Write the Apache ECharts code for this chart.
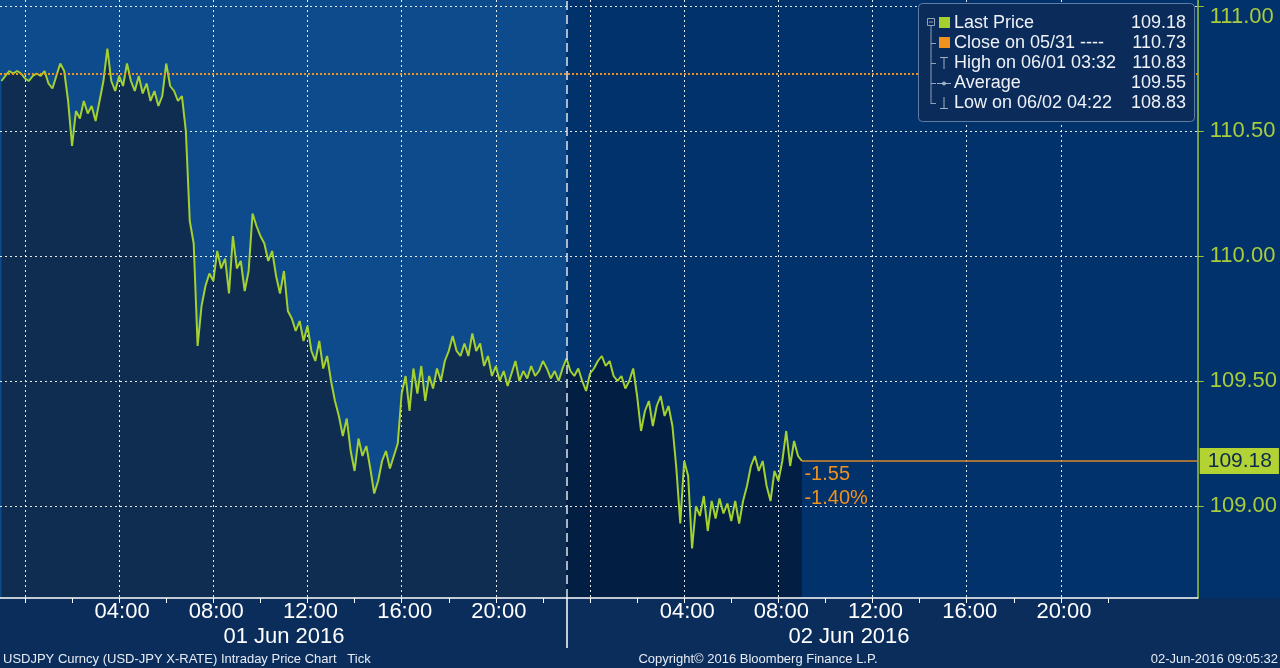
<!DOCTYPE html>
<html><head><meta charset="utf-8">
<script src="https://cdn.jsdelivr.net/npm/echarts@6/dist/echarts.min.js"></script>
<style>html,body{margin:0;padding:0;background:#0a2d5c;}#c{width:1280px;height:668px;}</style>
</head><body><div id="c"></div>
<script>
// ---- data ----
const startHour = -1;          // 23:00 on 31 May (hours from 00:00 01 Jun)
const stepMinutes = 10;
const prices = [
110.70,110.72,110.74,110.73,110.74,110.73,110.71,110.70,110.72,110.73,
110.72,110.74,110.69,110.67,110.72,110.77,110.74,110.62,110.44,110.58,
110.55,110.62,110.57,110.60,110.54,110.62,110.70,110.83,110.70,110.66,
110.72,110.68,110.77,110.70,110.66,110.72,110.65,110.69,110.62,110.66,
110.60,110.64,110.77,110.68,110.66,110.62,110.64,110.50,110.14,110.05,
109.64,109.80,109.88,109.93,109.90,110.02,109.95,109.99,109.85,110.08,
109.95,109.98,109.86,109.94,110.17,110.12,110.08,110.05,109.98,110.02,
109.92,109.85,109.94,109.78,109.75,109.70,109.74,109.66,109.72,109.62,
109.58,109.66,109.55,109.60,109.50,109.42,109.36,109.28,109.35,109.22,
109.14,109.27,109.20,109.24,109.15,109.05,109.10,109.18,109.22,109.15,
109.20,109.25,109.45,109.52,109.38,109.55,109.45,109.56,109.42,109.52,
109.47,109.55,109.50,109.58,109.62,109.68,109.62,109.60,109.65,109.60,
109.69,109.62,109.65,109.56,109.60,109.52,109.56,109.50,109.54,109.48,
109.53,109.58,109.50,109.54,109.51,109.56,109.52,109.54,109.58,109.55,
109.51,109.54,109.50,109.55,109.59,109.54,109.52,109.55,109.50,109.46,
109.53,109.55,109.58,109.60,109.56,109.58,109.52,109.50,109.52,109.47,
109.50,109.55,109.44,109.30,109.38,109.42,109.32,109.40,109.44,109.36,
109.40,109.32,109.15,108.93,109.18,109.12,108.83,109.00,108.96,109.04,
108.90,109.02,108.95,109.03,108.97,109.01,108.94,109.02,108.93,109.02,
109.08,109.16,109.20,109.14,109.18,109.08,109.02,109.14,109.10,109.18,
109.30,109.16,109.26,109.20,109.18
];
const timeTickHours = [0,2,4,6,8,10,12,14,16,18,20,22,24,26,28,30,32,34,36,38,40,42,44,46];
const timeLabelHours = [4,8,12,16,20,28,32,36,40,44];
const gridHours = [0,4,8,12,16,20,24,28,32,36,40,44];
const dateLabelHours = [11,35];
const dateLabels = ['01 Jun 2016','02 Jun 2016'];
const priceTicks = [109.0,109.5,110.0,110.5,111.0];
const sessionBreakHour = 23;
const prevClose = 110.73;
const lastPrice = 109.18;
const netChange = '-1.55';
const pctChange = '-1.40%';
const legendLabels = ['Last Price','Close on 05/31 ----','High on 06/01 03:32','Average','Low on 06/02 04:22'];
const legendValues = ['109.18','110.73','110.83','109.55','108.83'];
const footerLeft = 'USDJPY Curncy (USD-JPY X-RATE) Intraday Price Chart   Tick';
const footerCenter = 'Copyright\u00A9 2016 Bloomberg Finance L.P.';
const footerRight = '02-Jun-2016 09:05:32';

// ---- build ----
const X_MIN = -1.06, X_MAX = 49.81, Y_MIN = 108.632, Y_MAX = 111.024;
const FONT = 'Liberation Sans, Arial, sans-serif';
const seriesData = prices.map((p,i)=>[startHour + i*stepMinutes/60, p]);
const lastHour = seriesData[seriesData.length-1][0];
const frac = (sessionBreakHour - startHour)/(lastHour - startHour);
const C = {
  bgLeft:'#0d4b8c', bgRight:'#02326c', fillLeft:'#0f2d50', fillRight:'#021e42',
  line:'#a4d030', axisGreen:'#9cc43a', orange:'#f0921e', band:'#0a2d5c'
};
const xBase = {type:'value', min:X_MIN, max:X_MAX, gridIndex:0, position:'bottom',
  axisLine:{show:false, onZero:false}, axisTick:{show:false}, axisLabel:{show:false}, splitLine:{show:false}};

const legendEls = [];
legendEls.push({type:'rect', shape:{x:918.5,y:3.5,width:276,height:118,r:4},
  style:{fill:'#0b2b5a', stroke:'#5f7ea3', lineWidth:1}, z:100});
legendEls.push({type:'rect', shape:{x:927.5,y:18.5,width:7,height:7}, style:{fill:'none', stroke:'#8fa3bb', lineWidth:1}, z:101});
legendEls.push({type:'line', shape:{x1:929,y1:22,x2:933,y2:22}, style:{stroke:'#8fa3bb', lineWidth:1}, z:101});
legendEls.push({type:'line', shape:{x1:931,y1:26,x2:931,y2:104}, style:{stroke:'#8fa3bb', lineWidth:1}, z:101});
[43,63,83,103].forEach(y=>legendEls.push({type:'line', shape:{x1:931,y1:y+0.5,x2:936,y2:y+0.5}, style:{stroke:'#8fa3bb', lineWidth:1}, z:101}));
legendEls.push({type:'rect', shape:{x:939,y:17,width:11,height:11}, style:{fill:C.line}, z:101});
legendEls.push({type:'rect', shape:{x:939,y:37,width:11,height:11}, style:{fill:C.orange}, z:101});
legendEls.push({type:'line', shape:{x1:940,y1:57.5,x2:948,y2:57.5}, style:{stroke:'#9fb0c4', lineWidth:1}, z:101});
legendEls.push({type:'line', shape:{x1:944,y1:57,x2:944,y2:69}, style:{stroke:'#9fb0c4', lineWidth:1}, z:101});
legendEls.push({type:'line', shape:{x1:937,y1:83.5,x2:951,y2:83.5}, style:{stroke:'#9fb0c4', lineWidth:1}, z:101});
legendEls.push({type:'circle', shape:{cx:944,cy:83.5,r:2}, style:{fill:'#9fb0c4'}, z:101});
legendEls.push({type:'line', shape:{x1:944,y1:97,x2:944,y2:108}, style:{stroke:'#9fb0c4', lineWidth:1}, z:101});
legendEls.push({type:'line', shape:{x1:940,y1:108.5,x2:948,y2:108.5}, style:{stroke:'#9fb0c4', lineWidth:1}, z:101});
legendLabels.forEach((t,i)=>{
  legendEls.push({type:'text', x:954, y:23+i*20, style:{text:t, fill:'#eef2f8', font:'18px '+FONT, textVerticalAlign:'middle'}, z:101});
  legendEls.push({type:'text', x:1186, y:23+i*20, style:{text:legendValues[i], fill:'#eef2f8', font:'18px '+FONT, textAlign:'right', textVerticalAlign:'middle'}, z:101});
});
const footerEls = [
  {type:'rect', shape:{x:0,y:598,width:1280,height:70}, style:{fill:C.band}, z:-10},
  {type:'text', x:3, y:659, style:{text:footerLeft, fill:'#e6ecf4', font:'13px '+FONT, textVerticalAlign:'middle'}, z:5},
  {type:'text', x:758, y:659, style:{text:footerCenter, fill:'#e6ecf4', font:'13px '+FONT, textAlign:'center', textVerticalAlign:'middle'}, z:5},
  {type:'text', x:1278, y:659, style:{text:footerRight, fill:'#e6ecf4', font:'13px '+FONT, textAlign:'right', textVerticalAlign:'middle'}, z:5}
];

const option = {
  backgroundColor: C.bgRight,
  animation:false,
  grid:{left:0, right:82, top:0, bottom:70, containLabel:false},
  xAxis:[
    Object.assign({}, xBase, {z:2, axisTick:{show:false, customValues:gridHours},
      splitLine:{show:true, lineStyle:{color:'#ffffff', type:[2,3], width:1, opacity:0.9}}}),
    Object.assign({}, xBase, {z:4,
      axisLine:{show:true, onZero:false, lineStyle:{color:'#ffffff', width:1.5}},
      axisTick:{show:true, customValues:timeTickHours, length:5, lineStyle:{color:'#ffffff'}},
      axisLabel:{show:true, customValues:timeLabelHours, margin:3, padding:[0,0,0,6],
        color:'#ffffff', fontSize:22, fontFamily:FONT,
        formatter:v=>String(Math.round(v)%24).padStart(2,'0')+':00'}}),
    Object.assign({}, xBase, {z:4, offset:25,
      axisLabel:{show:true, customValues:dateLabelHours, margin:3, color:'#ffffff', fontSize:22, fontFamily:FONT,
        formatter:v=>dateLabels[dateLabelHours.indexOf(Math.round(v))]}}),
    Object.assign({}, xBase, {z:4,
      axisTick:{show:true, customValues:[sessionBreakHour], length:50, lineStyle:{color:'#ffffff', width:1.5}}})
  ],
  yAxis:[{
    type:'value', position:'right', min:Y_MIN, max:Y_MAX, z:2,
    axisLine:{show:true, onZero:false, lineStyle:{color:C.axisGreen, width:1.5}},
    axisTick:{show:true, customValues:priceTicks, length:6, lineStyle:{color:C.axisGreen}},
    axisLabel:{show:true, customValues:priceTicks, margin:12, color:'#a8cc3c', fontSize:22, fontFamily:FONT,
      verticalAlignMaxLabel:'top', formatter:v=>v.toFixed(2)},
    splitLine:{show:true, lineStyle:{color:'#ffffff', type:[2,3], width:1, opacity:0.9}}
  }],
  series:[
    { type:'line', data:[], z:0, silent:true,
      markArea:{silent:true, data:[
        [{xAxis:X_MIN, itemStyle:{color:C.bgLeft}}, {xAxis:sessionBreakHour}],
        [{xAxis:sessionBreakHour, itemStyle:{color:C.bgRight}}, {xAxis:X_MAX}]
      ]},
      markLine:{silent:true, symbol:['none','none'], label:{show:false},
        lineStyle:{color:'#dfe8f2', type:[9,5], width:1.5},
        data:[{xAxis:sessionBreakHour}]}
    },
    { type:'line', data:seriesData, z:1, silent:true, showSymbol:false,
      lineStyle:{width:0, opacity:0},
      areaStyle:{opacity:1, origin:'start', color:new echarts.graphic.LinearGradient(0,0,1,0,[
        {offset:0,color:C.fillLeft},{offset:frac,color:C.fillLeft},
        {offset:frac,color:C.fillRight},{offset:1,color:C.fillRight}])}
    },
    { type:'line', data:seriesData, z:3, silent:true, showSymbol:false,
      lineStyle:{color:C.line, width:2},
      markLine:{silent:true, symbol:['none','none'], data:[
        {yAxis:prevClose, label:{show:false}, lineStyle:{color:C.orange, type:[2,2], width:2}},
        [{coord:[lastHour,lastPrice], lineStyle:{color:'#d58a2a', type:'solid', width:1.5},
          label:{show:true, position:'end', distance:2, formatter:String(lastPrice.toFixed(2)),
            backgroundColor:'#b3d234', color:'#0b2a52', fontSize:21, fontFamily:FONT, padding:[3,7,2,8]}},
         {coord:[X_MAX,lastPrice]}]
      ]},
      markPoint:{silent:true, symbol:'rect', symbolSize:1, itemStyle:{color:'rgba(0,0,0,0)'},
        data:[{coord:[lastHour,lastPrice],
          label:{show:true, position:[3,2], formatter:netChange+'\n'+pctChange, color:C.orange,
            fontSize:20, fontFamily:FONT, lineHeight:24, align:'left', verticalAlign:'top'}}]}
    }
  ],
  graphic:{elements: footerEls.concat(legendEls)}
};
const chart = echarts.init(document.getElementById('c'));
chart.setOption(option);
</script></body></html>
